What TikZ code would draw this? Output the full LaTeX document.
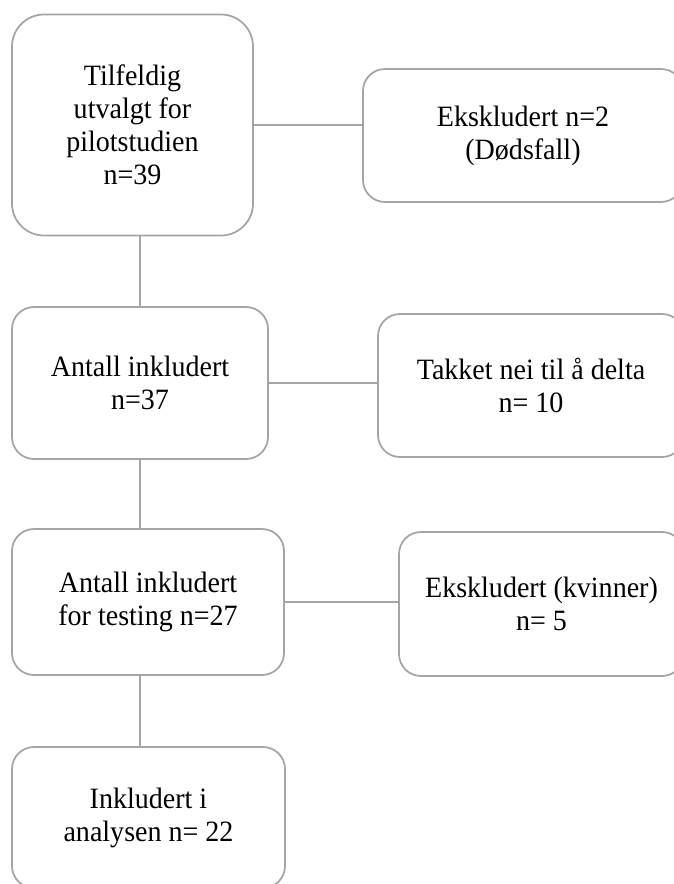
\documentclass[tikz,border=0pt]{standalone}
\usepackage{fontspec}
\setmainfont{Liberation Serif}[FakeStretch=0.95]
\usetikzlibrary{positioning}
\definecolor{boxgray}{HTML}{A5A5A5}
\tikzset{
  flowbox/.style={draw=boxgray, line width=1.75pt, rounded corners=22pt, align=center,
    inner sep=0pt, font=\fontsize{29.5}{33}\selectfont},
  flowline/.style={draw=boxgray, line width=1.75pt}
}

\begin{document}
\begin{tikzpicture}[x=1pt, y=-1pt]
      \useasboundingbox (0, 0) rectangle (674, 884);
      \clip (0, 0) rectangle (674, 884);

      % left column
      \node[flowbox, rounded corners=32pt, minimum width=241pt, minimum height=221pt] (utvalgt) at (132.5, 125) {Tilfeldig\\utvalgt for\\pilotstudien\\n=39};
      \node[flowbox, minimum width=256pt, minimum height=152pt] (inkludert) at (140, 383) {Antall inkludert\\n=37};
      \node[flowbox, minimum width=272pt, minimum height=146pt] (testing) at (148, 602) {Antall inkludert\\for testing n=27};
      \node[flowbox, minimum width=273pt, minimum height=141pt] (analysen) at (148.5, 817.5) {Inkludert i\\analysen n= 22};

      % right column
      \node[flowbox, minimum width=320pt, minimum height=133pt] (doedsfall) at (523, 135.5) {Ekskludert n=2\\(Dødsfall)};
      \node[flowbox, minimum width=306pt, minimum height=143pt] (takket) at (531, 385.5) {Takket nei til å delta\\n= 10};
      \node[flowbox, minimum width=285pt, minimum height=144pt] (kvinner) at (541.5, 604) {Ekskludert (kvinner)\\n= 5};

      \draw[flowline] (utvalgt.south -| inkludert.north) -- (inkludert.north);
      \draw[flowline] (inkludert.south) -- (inkludert.south |- testing.north);
      \draw[flowline] (inkludert.south |- testing.south) -- (inkludert.south |- analysen.north);

      \draw[flowline] (utvalgt.east) -- (utvalgt.east -| doedsfall.west);
      \draw[flowline] (inkludert.east) -- (inkludert.east -| takket.west);
      \draw[flowline] (testing.east) -- (testing.east -| kvinner.west);
    \end{tikzpicture}
\end{document}
